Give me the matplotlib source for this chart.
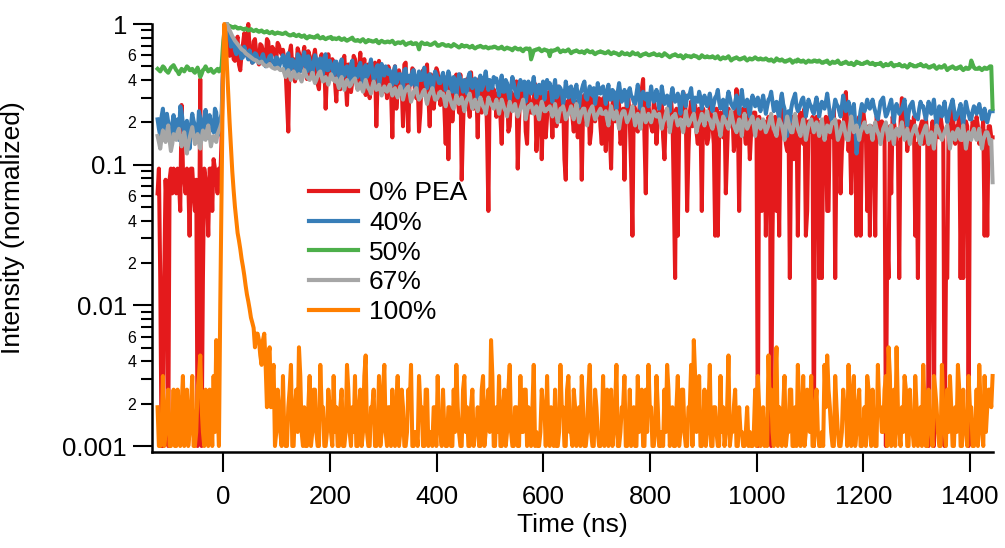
import numpy as np
import matplotlib
matplotlib.use("Agg")
from matplotlib import pyplot as plt
from matplotlib.ticker import FixedLocator, FuncFormatter

plt.rcParams['font.family'] = ['Liberation Sans', 'DejaVu Sans']

# time axis of the decays (ns): bins every 2.5 ns, stored as the 5 ns bins (-123, -118, ...)
# plus the bins lying in between them (-120.5, -115.5, ...)
time_ns = np.arange(-123, 1443, 2.5)

# 0% PEA, raw photon counts (peak bin = 64)
pea_0_counts = [
    4, 1, 0, 5, 0, 6, 6, 4, 5, 17, 5, 6, 2, 6, 3, 0, 26, 1, 5, 2, 6, 7, 5, 6,
    10, 60, 64,
    38, 50, 35, 52, 30, 46, 42, 64, 36, 48, 40, 33, 45, 38, 50, 34, 44, 39, 47, 41,
    42, 30, 11, 45, 36, 28, 40, 33, 44, 26, 38, 31, 42, 24, 36, 30, 16, 39, 28, 34,
    18, 33, 27, 38, 17, 31, 25, 36, 22, 40, 27, 20, 33, 24, 29, 12, 35, 22, 30, 19,
    28, 10, 32, 21, 27, 12, 34, 11, 25, 30, 19, 11, 28, 22, 33, 12, 26, 20, 29, 17,
    25, 9, 7, 24, 18, 28, 15, 5, 22, 26, 14, 20, 24, 10, 21, 17, 25, 3, 19, 22,
    14, 22, 9, 18, 24, 12, 20, 16, 6, 23, 17, 11, 21, 15, 19, 8, 22, 7, 18, 14,
    20, 10, 17, 23, 13, 19, 5, 16, 21, 11, 18, 14, 5, 20, 15, 9, 22, 13, 17, 12,
    19, 8, 15, 6, 21, 14, 17, 10, 5, 19, 13, 2, 16, 11, 20, 26, 4, 17, 12, 18,
    9, 15, 19, 7, 16, 12, 14, 1, 2, 17, 21, 15, 8, 18, 13, 11, 16, 3, 14, 9,
    17, 12, 2, 2, 15, 10, 4, 16, 13, 8, 22, 3, 14, 11, 16, 7, 13, 15, 0, 12,
    9, 2, 14, 0, 11, 3, 2, 20, 12, 8, 1, 14, 10, 2, 15, 9, 2, 13, 11, 0,
    14, 1, 1, 12, 3, 15, 10, 1, 13, 4, 11, 21, 8, 4, 12, 2, 14, 9, 13, 3,
    2, 11, 2, 14, 10, 12, 0, 1, 4, 13, 9, 1, 19, 11, 8, 13, 10, 2, 1, 12,
    9, 14, 0, 11, 0, 13, 10, 12, 0, 1, 11, 18, 9, 12, 1, 1, 13, 0, 10, 12,
    14, 9, 11, 2, 2, 12, 10,
]
pea_0_counts_mid = [
    6, 0, 1, 3, 5, 4, 5, 6, 3, 6, 4, 5, 6, 4, 5, 1, 0, 6, 4, 6, 3, 6, 4, 5,
    30, 62, 45,
    44, 36, 48, 33, 40, 55, 38, 42, 34, 50, 36, 46, 41, 35, 48, 38, 42, 36, 45, 39,
    36, 18, 40, 32, 25, 43, 30, 38, 29, 41, 27, 37, 33, 22, 39, 35, 28, 31, 36, 25,
    30, 22, 35, 26, 33, 21, 38, 28, 31, 24, 36, 30, 19, 28, 34, 26, 30, 21, 27, 32,
    22, 29, 16, 30, 24, 33, 18, 27, 31, 21, 26, 15, 30, 25, 20, 28, 16, 31, 23, 26,
    16, 27, 20, 13, 24, 19, 28, 12, 23, 18, 29, 16, 22, 26, 15, 21, 11, 24, 18, 20,
    19, 14, 23, 16, 11, 21, 17, 25, 13, 19, 22, 9, 18, 15, 24, 12, 20, 16, 10, 21,
    16, 19, 12, 21, 15, 7, 18, 22, 14, 17, 10, 20, 16, 13, 21, 11, 18, 15, 19, 9,
    15, 18, 11, 17, 13, 20, 9, 16, 14, 19, 6, 17, 12, 15, 22, 10, 18, 14, 11, 16,
    13, 17, 10, 15, 12, 18, 4, 16, 11, 14, 19, 3, 15, 12, 17, 9, 14, 16, 12, 10,
    14, 9, 16, 11, 13, 17, 8, 12, 15, 10, 14, 12, 16, 9, 13, 11, 15, 12, 14, 3,
    13, 8, 12, 2, 14, 10, 12, 15, 9, 13, 11, 7, 14, 12, 10, 16, 3, 12, 14, 8,
    11, 13, 9, 14, 3, 12, 16, 10, 13, 8, 15, 12, 11, 14, 9, 13, 2, 15, 11, 12,
    12, 9, 14, 11, 13, 10, 2, 12, 14, 11, 9, 13, 12, 15, 10, 12, 14, 9, 11, 13,
    12, 10, 2, 13, 9, 12, 14, 11, 1, 12, 13, 10, 12, 14, 9, 11, 12, 10, 13, 11,
    12, 10, 13, 11, 12, 10,
]

# 40% PEA, normalized intensity x1000
pea_40 = [
    210, 160, 250, 175, 200, 140, 225, 185, 150, 240, 170, 205, 130, 230, 190, 160, 215, 175, 245, 155, 200, 170, 235, 190,
    230, 700, 1000,
    820, 720, 650, 700, 620, 580, 640, 560, 600, 540, 610, 530, 580, 560, 520, 590, 540, 510, 570, 530,
    600, 450, 620, 480, 540, 430, 590, 510, 630, 460, 550, 420, 600, 490, 570, 440, 610, 470, 520, 430,
    540, 400, 560, 430, 500, 380, 550, 460, 420, 530, 370, 510, 440, 560, 400, 490, 360, 520, 430, 480,
    470, 370, 500, 400, 440, 340, 480, 410, 370, 470, 330, 460, 400, 490, 350, 440, 320, 460, 410, 380,
    450, 340, 460, 360, 420, 310, 440, 370, 400, 320, 450, 350, 410, 300, 430, 360, 460, 340, 380, 420,
    410, 310, 430, 330, 380, 290, 420, 340, 300, 400, 350, 280, 390, 320, 420, 300, 370, 340, 290, 400,
    380, 280, 400, 310, 350, 270, 390, 300, 360, 280, 370, 260, 340, 390, 290, 360, 310, 270, 380, 320,
    360, 270, 370, 290, 330, 250, 380, 280, 340, 260, 350, 300, 270, 370, 250, 330, 290, 260, 360, 280,
    340, 250, 360, 270, 310, 240, 350, 280, 320, 230, 330, 260, 300, 350, 240, 290, 330, 250, 310, 260,
    320, 240, 300, 340, 250, 290, 220, 330, 270, 250, 310, 230, 340, 260, 290, 220, 310, 260, 300, 240,
    310, 230, 290, 330, 240, 280, 210, 320, 250, 160, 200, 280, 320, 240, 270, 300, 220, 290, 260, 230,
    300, 220, 280, 250, 320, 230, 200, 290, 260, 220, 310, 240, 280, 210, 270, 120, 200, 270, 240, 290,
    250, 290, 240, 210, 280, 300, 220, 250, 290, 200, 270, 230, 250, 290, 190, 260, 280, 220, 210, 280,
    260, 210, 280, 230, 290, 190, 260, 220, 280, 200, 250, 290, 210, 230, 270, 190, 280, 230, 210, 260,
    230, 270, 210, 250, 200, 240, 240,
]
pea_40_mid = [
    180, 220, 190, 230, 165, 195, 170, 210, 260, 195, 185, 160, 190, 205, 170, 240, 150, 210, 180, 225, 185, 250, 160, 210,
    450, 900, 900,
    690, 760, 610, 660, 570, 690, 600, 650, 530, 620, 570, 560, 610, 500, 560, 600, 530, 580, 490, 560,
    520, 580, 470, 560, 500, 610, 460, 570, 500, 590, 480, 530, 560, 450, 520, 580, 470, 550, 490, 540,
    470, 510, 420, 490, 450, 520, 410, 480, 500, 440, 480, 420, 500, 460, 430, 510, 420, 470, 500, 440,
    420, 450, 380, 440, 410, 470, 390, 430, 460, 380, 420, 400, 450, 380, 430, 410, 390, 440, 380, 420,
    400, 380, 420, 330, 400, 370, 410, 330, 390, 420, 370, 400, 360, 390, 340, 410, 380, 400, 350, 390,
    360, 380, 330, 400, 320, 360, 380, 310, 370, 340, 390, 330, 350, 370, 340, 360, 320, 390, 340, 350,
    330, 350, 300, 360, 330, 300, 340, 350, 300, 340, 310, 320, 370, 300, 330, 320, 350, 310, 330, 350,
    310, 330, 290, 340, 290, 330, 320, 300, 290, 330, 310, 280, 320, 300, 310, 300, 320, 300, 310, 290,
    300, 290, 310, 300, 270, 310, 300, 290, 280, 300, 290, 310, 320, 280, 300, 280, 300, 290, 280, 290,
    280, 270, 310, 280, 270, 240, 290, 300, 260, 280, 270, 290, 280, 270, 250, 280, 290, 280, 260, 280,
    270, 260, 300, 280, 260, 240, 280, 270, 180, 240, 250, 300, 260, 250, 290, 260, 250, 270, 240, 270,
    260, 250, 260, 280, 270, 210, 250, 270, 240, 260, 270, 250, 240, 250, 200, 150, 240, 250, 260, 260,
    270, 260, 220, 240, 290, 250, 230, 270, 240, 250, 250, 240, 270, 230, 230, 270, 240, 220, 250, 260,
    230, 240, 250, 260, 230, 220, 240, 250, 230, 220, 270, 250, 220, 250, 220, 240, 250, 210, 240, 250,
    250, 240, 230, 210, 220, 240,
]

# 50% PEA, normalized intensity x1000
pea_50 = [
    480, 460, 500, 470, 450, 490, 510, 470, 440, 480, 460, 500, 470, 480, 450, 490, 420, 470, 500, 460, 480, 450, 470, 460,
    500, 880, 1000,
    970, 950, 960, 930, 940, 920, 930, 900, 920, 890, 910, 880, 900, 870, 890, 860, 880, 850, 870, 860,
    850, 870, 840, 830, 850, 820, 840, 810, 830, 790, 820, 810, 800, 830, 790, 810, 780, 800, 810, 790,
    780, 800, 770, 790, 760, 780, 800, 760, 770, 750, 780, 740, 770, 760, 750, 770, 730, 760, 740, 750,
    740, 760, 720, 740, 730, 750, 710, 730, 740, 720, 730, 660, 740, 720, 730, 710, 720, 740, 700, 710,
    720, 700, 710, 690, 720, 700, 680, 710, 690, 700, 680, 700, 670, 690, 700, 680, 690, 670, 680, 690,
    680, 670, 690, 660, 680, 670, 650, 680, 660, 670, 640, 670, 660, 560, 650, 660, 670, 640, 660, 650,
    590, 640, 650, 670, 630, 650, 640, 660, 620, 640, 650, 630, 640, 620, 650, 630, 640, 610, 630, 640,
    630, 620, 640, 610, 630, 620, 600, 630, 610, 620, 600, 630, 610, 620, 590, 610, 620, 600, 610, 620,
    600, 610, 590, 620, 600, 580, 600, 610, 590, 600, 570, 600, 590, 580, 600, 590, 570, 600, 580, 590,
    580, 590, 570, 590, 560, 580, 570, 590, 550, 570, 580, 560, 570, 580, 550, 570, 560, 580, 560, 570,
    560, 570, 550, 560, 540, 570, 550, 560, 540, 550, 560, 530, 550, 560, 540, 550, 530, 550, 540, 550,
    540, 550, 530, 540, 550, 520, 540, 530, 550, 520, 530, 540, 520, 530, 510, 540, 530, 520, 530, 540,
    520, 530, 510, 520, 530, 500, 520, 510, 530, 500, 510, 520, 500, 510, 490, 520, 510, 500, 510, 520,
    500, 510, 490, 500, 510, 480, 500, 490, 510, 470, 490, 500, 480, 490, 500, 470, 490, 480, 550, 490,
    480, 490, 470, 490, 480, 500, 250,
]
pea_50_mid = [
    470, 480, 490, 460, 470, 500, 490, 460, 460, 470, 480, 490, 470, 460, 470, 460, 440, 480, 480, 470, 460, 460, 480, 470,
    700, 960, 980,
    960, 940, 950, 930, 930, 910, 920, 910, 900, 900, 890, 890, 880, 880, 870, 870, 860, 860, 860, 850,
    860, 850, 830, 840, 830, 830, 820, 820, 800, 810, 810, 800, 820, 800, 800, 790, 790, 800, 780, 790,
    790, 780, 780, 770, 770, 790, 770, 760, 760, 770, 760, 750, 760, 750, 760, 740, 750, 750, 740, 750,
    750, 740, 730, 740, 740, 730, 720, 730, 720, 730, 710, 720, 730, 720, 720, 710, 730, 720, 700, 720,
    710, 700, 700, 700, 710, 690, 690, 700, 700, 690, 690, 680, 680, 690, 690, 680, 680, 680, 680, 690,
    670, 680, 670, 670, 670, 660, 670, 670, 660, 650, 660, 670, 670, 600, 650, 660, 650, 650, 650, 640,
    650, 650, 660, 650, 640, 640, 650, 640, 630, 640, 640, 630, 630, 640, 640, 630, 620, 620, 630, 630,
    620, 630, 620, 620, 620, 610, 610, 620, 610, 610, 610, 620, 610, 600, 600, 610, 610, 600, 610, 610,
    600, 600, 600, 610, 590, 590, 600, 600, 590, 590, 580, 590, 590, 590, 590, 580, 580, 590, 580, 580,
    580, 580, 580, 570, 570, 570, 580, 570, 560, 570, 570, 560, 570, 560, 560, 560, 570, 570, 560, 560,
    560, 560, 550, 550, 550, 560, 550, 550, 540, 550, 550, 540, 540, 550, 540, 540, 540, 540, 540, 550,
    540, 540, 530, 540, 530, 530, 530, 540, 530, 520, 530, 530, 520, 520, 520, 530, 520, 520, 530, 530,
    520, 520, 520, 520, 510, 510, 510, 520, 510, 510, 510, 510, 500, 500, 500, 510, 500, 500, 510, 510,
    500, 500, 490, 500, 490, 490, 490, 500, 490, 480, 490, 490, 480, 490, 480, 480, 480, 490, 520, 480,
    480, 480, 480, 480, 490, 500,
]

# 67% PEA, normalized intensity x1000
pea_67 = [
    160, 130, 175, 145, 190, 125, 165, 150, 180, 135, 170, 120, 155, 185, 140, 165, 130, 175, 150, 190, 135, 160, 145, 175,
    200, 650, 1000,
    900, 820, 760, 720, 680, 650, 620, 600, 580, 560, 550, 530, 540, 510, 500, 520, 490, 480, 490, 470,
    480, 420, 470, 400, 460, 410, 440, 390, 470, 420, 400, 450, 380, 430, 460, 390, 420, 370, 440, 400,
    410, 350, 420, 340, 400, 360, 390, 410, 340, 380, 330, 400, 350, 320, 390, 340, 370, 310, 360, 330,
    370, 310, 350, 300, 360, 290, 340, 360, 280, 330, 350, 290, 310, 340, 270, 320, 350, 290, 300, 330,
    320, 260, 330, 280, 250, 310, 270, 300, 240, 290, 320, 250, 290, 240, 300, 260, 230, 300, 270, 250,
    290, 230, 290, 250, 220, 280, 240, 270, 220, 250, 290, 210, 260, 270, 230, 260, 210, 280, 240, 250,
    260, 220, 270, 200, 250, 260, 210, 230, 260, 210, 270, 200, 240, 250, 190, 240, 260, 210, 230, 250,
    230, 240, 190, 260, 210, 240, 180, 230, 240, 200, 220, 260, 190, 230, 180, 250, 200, 230, 200, 240,
    220, 230, 180, 210, 250, 170, 220, 230, 190, 210, 170, 240, 190, 210, 230, 170, 200, 230, 190, 240,
    210, 180, 230, 200, 160, 220, 200, 180, 240, 190, 170, 210, 160, 230, 180, 200, 220, 160, 210, 180,
    210, 170, 190, 230, 180, 160, 210, 190, 150, 220, 180, 170, 230, 180, 160, 210, 150, 190, 210, 170,
    200, 160, 210, 150, 190, 170, 200, 210, 150, 170, 200, 160, 150, 220, 170, 190, 150, 180, 200, 170,
    190, 150, 200, 170, 140, 180, 200, 150, 190, 140, 180, 160, 200, 150, 180, 140, 170, 190, 160, 140,
    170, 190, 140, 170, 130, 190, 170, 150, 170, 190, 130, 170, 150, 180, 150, 190, 130, 170, 150, 180,
    150, 180, 130, 160, 170, 140, 75,
]
pea_67_mid = [
    145, 155, 160, 170, 150, 140, 160, 170, 155, 150, 140, 140, 170, 160, 150, 145, 155, 160, 175, 160, 150, 150, 165, 185,
    400, 900, 950,
    860, 790, 740, 700, 660, 640, 610, 590, 570, 555, 540, 535, 520, 505, 510, 500, 485, 485, 480, 475,
    450, 440, 430, 430, 440, 420, 410, 430, 440, 410, 420, 410, 400, 450, 420, 400, 400, 400, 420, 390,
    380, 390, 370, 380, 380, 370, 400, 370, 360, 350, 360, 370, 340, 360, 360, 350, 340, 340, 340, 350,
    340, 330, 320, 330, 330, 320, 350, 320, 300, 340, 310, 300, 330, 300, 300, 330, 320, 290, 320, 310,
    290, 300, 300, 260, 280, 290, 280, 270, 270, 300, 280, 270, 260, 270, 280, 250, 260, 280, 260, 270,
    260, 260, 270, 240, 250, 260, 250, 240, 240, 270, 250, 240, 260, 250, 240, 230, 250, 260, 240, 250,
    240, 240, 230, 230, 250, 240, 220, 240, 230, 240, 240, 220, 250, 220, 220, 250, 230, 220, 240, 230,
    230, 210, 230, 230, 220, 210, 210, 240, 220, 210, 240, 220, 210, 210, 220, 220, 210, 220, 220, 230,
    220, 200, 200, 230, 210, 200, 220, 210, 200, 190, 200, 210, 200, 220, 200, 190, 210, 210, 220, 210,
    190, 200, 210, 180, 190, 210, 190, 210, 210, 180, 190, 190, 200, 200, 190, 210, 190, 190, 200, 200,
    190, 180, 210, 200, 170, 190, 200, 170, 190, 200, 170, 200, 200, 170, 190, 180, 170, 200, 190, 190,
    180, 180, 180, 170, 180, 190, 200, 180, 160, 190, 180, 150, 190, 190, 180, 170, 170, 190, 180, 180,
    170, 180, 180, 160, 160, 190, 170, 170, 160, 170, 170, 180, 170, 160, 160, 160, 180, 170, 150, 160,
    180, 160, 160, 150, 160, 180, 160, 160, 180, 160, 150, 160, 170, 160, 170, 160, 150, 160, 170, 160,
    160, 150, 150, 170, 160, 150,
]

# 100% PEA, raw photon counts (peak bin = 1590)
pea_100_counts = [
    3, 0, 5, 2, 4, 0, 4, 1, 3, 3, 0, 4, 2, 5, 1, 4, 7, 2, 4, 0, 3, 5, 9, 0,
    111, 1590, 800,
    318, 143, 80, 52, 40, 30, 22, 17, 13, 11, 10, 9, 6, 10, 3, 8, 5, 1, 4, 2,
    5, 0, 3, 6, 1, 4, 8, 2, 3, 0, 5, 2, 4, 1, 6, 3, 0, 4, 2, 5,
    3, 0, 4, 1, 6, 2, 3, 5, 0, 4, 2, 7, 1, 3, 4, 0, 5, 2, 6, 1,
    3, 4, 0, 5, 2, 3, 1, 4, 6, 0, 2, 5, 3, 1, 4, 2, 0, 3, 5, 2,
    4, 0, 3, 1, 4, 6, 2, 0, 5, 3, 1, 4, 2, 3, 0, 5, 2, 4, 9, 1,
    3, 5, 0, 4, 2, 6, 1, 3, 0, 5, 2, 4, 3, 0, 6, 2, 1, 4, 3, 5,
    0, 2, 4, 1, 6, 3, 0, 5, 2, 4, 1, 3, 5, 0, 2, 6, 1, 4, 2, 0,
    5, 3, 1, 4, 2, 6, 0, 3, 5, 1, 4, 2, 0, 5, 3, 1, 4, 6, 3, 1,
    5, 0, 2, 4, 6, 1, 3, 0, 5, 2, 4, 1, 3, 6, 9, 2, 5, 0, 4, 2,
    6, 1, 3, 0, 5, 3, 2, 7, 2, 3, 1, 3, 2, 0, 3, 2, 1, 4, 5, 0,
    3, 2, 7, 4, 1, 8, 3, 0, 5, 2, 4, 1, 3, 6, 0, 5, 2, 3, 5, 1,
    4, 0, 2, 6, 7, 3, 1, 5, 2, 0, 4, 3, 6, 1, 5, 2, 4, 0, 3, 5,
    2, 4, 1, 6, 3, 2, 5, 8, 0, 4, 8, 2, 3, 5, 1, 4, 2, 5, 0, 3,
    6, 1, 4, 2, 5, 3, 0, 6, 2, 4, 5, 1, 3, 6, 0, 4, 2, 5, 3, 0,
    4, 6, 2, 5, 3, 4, 5,
]
pea_100_counts_mid = [
    1, 2, 0, 3, 1, 2, 0, 4, 1, 5, 2, 1, 3, 0, 2, 5, 3, 0, 2, 4, 1, 2, 3, 16,
    700, 1350, 500,
    210, 105, 64, 46, 34, 26, 19, 15, 12, 8, 10, 7, 9, 6, 7, 3, 6, 2, 3, 1,
    2, 1, 4, 0, 3, 2, 5, 1, 0, 3, 1, 4, 2, 0, 3, 1, 2, 3, 0, 2,
    1, 3, 0, 2, 4, 1, 2, 0, 3, 1, 5, 2, 0, 3, 1, 2, 0, 4, 2, 3,
    0, 2, 3, 1, 4, 0, 2, 3, 1, 2, 0, 3, 1, 4, 0, 2, 3, 1, 2, 0,
    2, 1, 3, 0, 2, 3, 1, 4, 2, 0, 3, 1, 2, 0, 4, 1, 3, 2, 5, 0,
    2, 0, 3, 1, 4, 2, 0, 3, 1, 2, 4, 0, 2, 3, 1, 0, 2, 3, 1, 2,
    3, 1, 0, 2, 3, 1, 4, 2, 0, 3, 2, 1, 3, 0, 4, 2, 1, 3, 0, 2,
    1, 4, 2, 0, 3, 1, 2, 3, 0, 2, 1, 3, 0, 2, 4, 1, 2, 3, 0, 2,
    3, 1, 0, 2, 4, 2, 1, 3, 0, 4, 2, 1, 3, 0, 5, 3, 1, 2, 0, 3,
    1, 3, 2, 0, 2, 1, 3, 1, 2, 4, 0, 2, 1, 2, 0, 1, 2, 0, 3, 2,
    1, 0, 3, 2, 5, 0, 2, 3, 1, 2, 4, 1, 0, 3, 2, 1, 4, 2, 0, 3,
    2, 0, 1, 3, 4, 2, 0, 3, 1, 2, 3, 0, 2, 4, 1, 3, 0, 2, 1, 4,
    1, 2, 0, 3, 2, 4, 1, 5, 2, 0, 3, 1, 2, 4, 0, 2, 1, 3, 2, 0,
    3, 0, 2, 1, 4, 2, 1, 3, 0, 2, 3, 0, 2, 4, 1, 2, 0, 3, 1, 2,
    1, 3, 0, 2, 4, 3,
]

labels = ["0% PEA", "40%", "50%", "67%", "100%"]
colors = ['#E41A1C', '#377EB8', '#4DAF4A', '#A6A6A6', '#FF7F00']

Y_FLOOR = 0.001


def merge_bins(main: list, mid: list) -> np.ndarray:
    merged = np.empty(len(main) + len(mid))
    merged[0::2] = main
    merged[1::2] = mid
    return merged


def normalize(values: np.ndarray, peak: float) -> np.ndarray:
    return np.maximum(values / peak, Y_FLOOR)


def minor_label(v, pos):
    m = v / 10 ** np.floor(np.log10(v) + 1e-9)
    m = int(round(m))
    return str(m) if m in (2, 4, 6) else ""


series = [
    normalize(merge_bins(pea_0_counts, pea_0_counts_mid), 64),
    normalize(merge_bins(pea_40, pea_40_mid), 1000),
    normalize(merge_bins(pea_50, pea_50_mid), 1000),
    normalize(merge_bins(pea_67, pea_67_mid), 1000),
    normalize(merge_bins(pea_100_counts, pea_100_counts_mid), 1590),
]

fig = plt.figure(figsize=(10.05, 5.48), dpi=100)
ax = fig.add_axes([151.7 / 1005, 1 - 452 / 548, (992.6 - 151.7) / 1005, (452 - 24) / 548])

for values, color, label in zip(series, colors, labels):
    ax.plot(time_ns, values, color=color, lw=2.9, label=label, clip_on=False)

ax.set_yscale('log')
ax.set_xlim(-134, 1442)
ax.set_ylim(10 ** (-3 - 6 / 140.7), 1)

ax.xaxis.set_major_locator(FixedLocator(np.arange(0, 1401, 200)))
ax.xaxis.set_minor_locator(FixedLocator([]))
ax.yaxis.set_major_locator(FixedLocator([0.001, 0.01, 0.1, 1]))
ax.yaxis.set_major_formatter(FuncFormatter(lambda v, p: "%g" % v))
minors = [m * 10.0 ** d for d in (-3, -2, -1) for m in range(2, 10)]
ax.yaxis.set_minor_locator(FixedLocator(minors))
ax.yaxis.set_minor_formatter(FuncFormatter(minor_label))

for side in ['top', 'right']:
    ax.spines[side].set_visible(False)
for side in ['left', 'bottom']:
    ax.spines[side].set_linewidth(1.8)

ax.tick_params(axis='y', which='major', direction='out', length=13.7, width=1.5, labelsize=18.5, pad=4)
ax.tick_params(axis='y', which='minor', direction='out', length=8, width=1.5, labelsize=11.5, pad=3)
ax.tick_params(axis='x', which='major', direction='out', length=14.4, width=1.5, labelsize=18.5, pad=9)

ax.set_xlabel("Time (ns)", fontsize=19)
ax.set_ylabel("Intensity (normalized)", fontsize=19)
ax.xaxis.set_label_coords(0.5, -(513 - 452) / 428)
ax.yaxis.set_label_coords((25 - 151.7) / 840.9, (452 - 228) / 428)

leg = ax.legend(loc='upper left', bbox_to_anchor=(309 / 1005, 1 - 181 / 548), bbox_transform=fig.transFigure,
                frameon=False, fontsize=19, handlelength=1.85, handletextpad=0.42, labelspacing=0.22,
                borderpad=0, borderaxespad=0)
for line in leg.get_lines():
    line.set_linewidth(3)

plt.savefig("out.png", dpi=100)
